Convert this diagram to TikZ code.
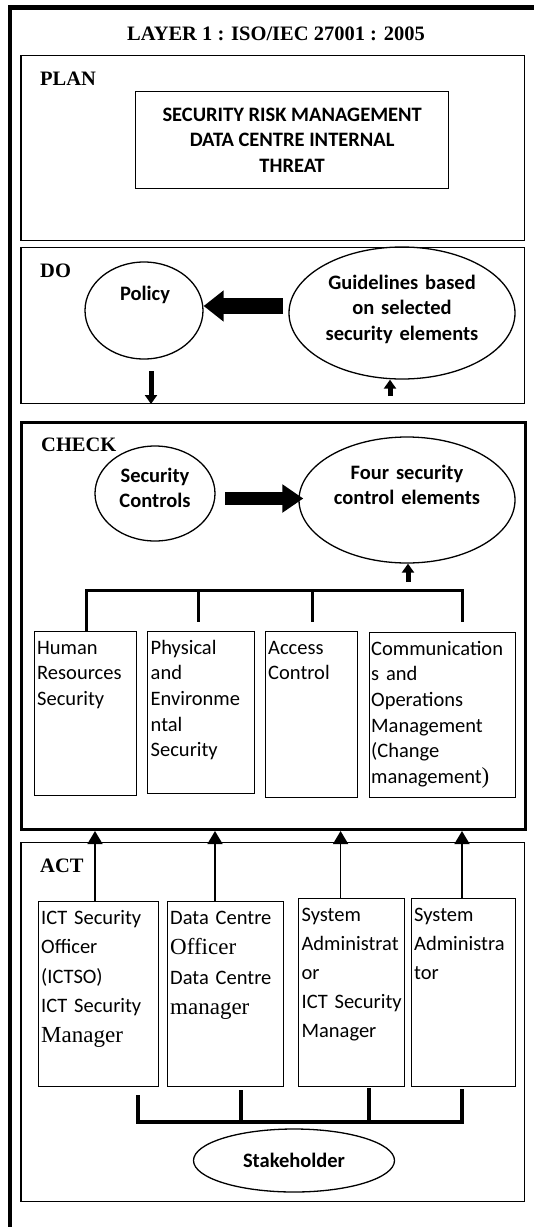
\documentclass[tikz,border=0pt]{standalone}
\usepackage{fontspec}
\setmainfont{Liberation Serif}
\newfontfamily\cb{Carlito}
\usetikzlibrary{arrows.meta,shapes.geometric}
\newcommand\sr[1]{{\rmfamily\fontsize{23}{25}\selectfont #1}}
\tikzset{
  box/.style={draw, line width=1.3pt, inner sep=0pt, anchor=north west},
  ell/.style={draw, ellipse, line width=1.3pt, inner sep=0pt},
  head/.style={inner sep=0pt, anchor=base west, font=\bfseries\fontsize{20.5}{24}\selectfont},
  ltxt/.style={inner sep=0pt, anchor=base west, text width=150pt, align=left},
  ctxt/.style={inner sep=0pt, anchor=base, text width=260pt, align=center, font=\cb\bfseries\fontsize{20.5}{25.5}\selectfont},
  fatL/.style={line width=16pt, -{Triangle[width=30pt,length=20pt]}},
  fatR/.style={line width=13pt, -{Triangle[width=27pt,length=21pt]}},
  thk/.style={line width=5pt, -{Triangle[width=12pt,length=9pt]}},
  uparr/.style={line width=1.5pt, -{Triangle[width=15pt,length=13pt]}},
  brk/.style={line width=3pt},
  brkb/.style={line width=4pt},
}
\begin{document}
\begin{tikzpicture}[x=1pt,y=-1pt]
\useasboundingbox (0,0) rectangle (534,1227);
\draw[line width=4.5pt] (534,7.5) -- (10,7.5) -- (10,1227);
\node[inner sep=0pt, anchor=base, font=\bfseries\fontsize{20.5}{24}\selectfont] (title) at (276,40) {LAYER 1 : ISO/IEC 27001 : 2005};

% PLAN
\node[box, minimum width=503.4pt, minimum height=185pt] (plan) at (20.4,55) {};
\node[head] (planl) at (40,85) {PLAN};
\node[box, minimum width=313pt, minimum height=97pt, align=center, font=\cb\bfseries\fontsize{20.5}{25.5}\selectfont] (risk) at (135,91) {SECURITY RISK MANAGEMENT\\DATA CENTRE INTERNAL\\THREAT};

% DO
\node[box, minimum width=503.4pt, minimum height=155.7pt] (do) at (20.4,247) {};
\node[head] (dol) at (40,277) {DO};
\node[ell, minimum width=118pt, minimum height=97pt] (pol) at (144,310.5) {};
\node[ctxt] (polt) at (145,300) {Policy};
\node[ell, minimum width=226pt, minimum height=132pt] (gui) at (402,313) {};
\node[ctxt] (guit) at (402,289) {Guidelines based\\on selected\\security elements};
\coordinate (fa1) at (283,306);
\draw[fatL] (fa1) -- (fa1 -| pol.east);
\coordinate (da) at (151,371);
\draw[thk] (da) -- (da |- do.south);
\coordinate (ua) at (390,396);
\draw[thk] (ua) -- (ua |- gui.south);

% CHECK
\node[box, line width=3pt, minimum width=503.6pt, minimum height=407pt] (chk) at (20.4,421) {};
\node[head] (chkl) at (41,451) {CHECK};
\node[ell, minimum width=120pt, minimum height=95pt] (sc) at (155,493.5) {};
\node[ctxt] (sct) at (155,482) {Security\\Controls};
\node[ell, minimum width=216pt, minimum height=126pt] (four) at (407,500) {};
\node[ctxt] (fourt) at (407,479) {Four security\\control elements};
\coordinate (fa2) at (225,498.5);
\draw[fatR, shorten >=-5pt] (fa2) -- (fa2 -| four.west);
\coordinate (ub) at (408,582);
\draw[thk] (ub) -- (ub |- four.south);

\node[box, minimum width=101.6pt, minimum height=164pt] (c1) at (34,631) {};
\node[box, minimum width=107pt, minimum height=162pt] (c2) at (147,631) {};
\node[box, minimum width=92pt, minimum height=166pt] (c3) at (265,631) {};
\node[box, minimum width=146.5pt, minimum height=165pt] (c4) at (368.5,632) {};
\begin{scope}[every node/.style={ltxt, font=\cb\fontsize{20.5}{25.7}\selectfont}]
\node (c1t) at (37,654) {Human\\Resources\\Security};
\node (c2t) at (150.5,654) {Physical\\and\\Environme\\ntal\\Security};
\node (c3t) at (268,654) {Access\\Control};
\node (c4t) at (371,655) {Communication\\s and\\Operations\\Management\\(Change\\management\sr{)}};
\end{scope}
\coordinate (br0) at (86,590.5);
\coordinate (br1) at (462,590.5);
\draw[brk] (c1.north -| br0) -- (br0) -- (br1) -- (462,622);
\draw[brk] (198,590.5) -- (198,622);
\draw[brk] (312,590.5) -- (312,622);

% ACT
\node[box, minimum width=503.4pt, minimum height=359pt] (act) at (20.4,842) {};
\node[head] (actl) at (40,872) {ACT};
\node[box, minimum width=120pt, minimum height=185pt] (a1) at (38,901) {};
\node[box, minimum width=116.5pt, minimum height=185pt] (a2) at (166.5,901) {};
\node[box, minimum width=105.6pt, minimum height=188pt] (a3) at (298,898) {};
\node[box, minimum width=104pt, minimum height=188pt] (a4) at (411,898) {};
\node[ltxt, font=\cb\fontsize{20.5}{29.5}\selectfont] (a1t) at (41,924) {ICT Security\\Officer\\(ICTSO)\\ICT Security\\\sr{Manager}};
\node[ltxt, font=\cb\fontsize{20.5}{30}\selectfont] (a2t) at (170,924) {Data Centre\\\sr{Officer}\\Data Centre\\\sr{manager}};
\node[ltxt, font=\cb\fontsize{20.5}{29}\selectfont] (a3t) at (301.4,921) {System\\Administrat\\or\\ICT Security\\Manager};
\node[ltxt, font=\cb\fontsize{20.5}{29}\selectfont] (a4t) at (414,921) {System\\Administra\\tor};
\coordinate (u1) at (95,900);
\coordinate (u2) at (215,900);
\coordinate (u3) at (340.6,900);
\coordinate (u4) at (462,900);
\draw[uparr] (u1 |- a1.north) -- (u1 |- chk.south);
\draw[uparr] (u2 |- a2.north) -- (u2 |- chk.south);
\draw[uparr] (u3 |- a3.north) -- (u3 |- chk.south);
\draw[uparr] (u4 |- a4.north) -- (u4 |- chk.south);

\coordinate (sb0) at (138,1122);
\coordinate (sb1) at (462,1122);
\draw[brkb] (138,1095) -- (sb0) -- (sb1) -- (462,1089);
\draw[brkb] (241,1090) -- (241,1122);
\draw[brkb] (369,1088) -- (369,1122);
\node[ell, minimum width=201pt, minimum height=63pt, font=\cb\bfseries\fontsize{20.5}{24}\selectfont] (stk) at (294,1160.5) {Stakeholder};
\end{tikzpicture}
\end{document}
